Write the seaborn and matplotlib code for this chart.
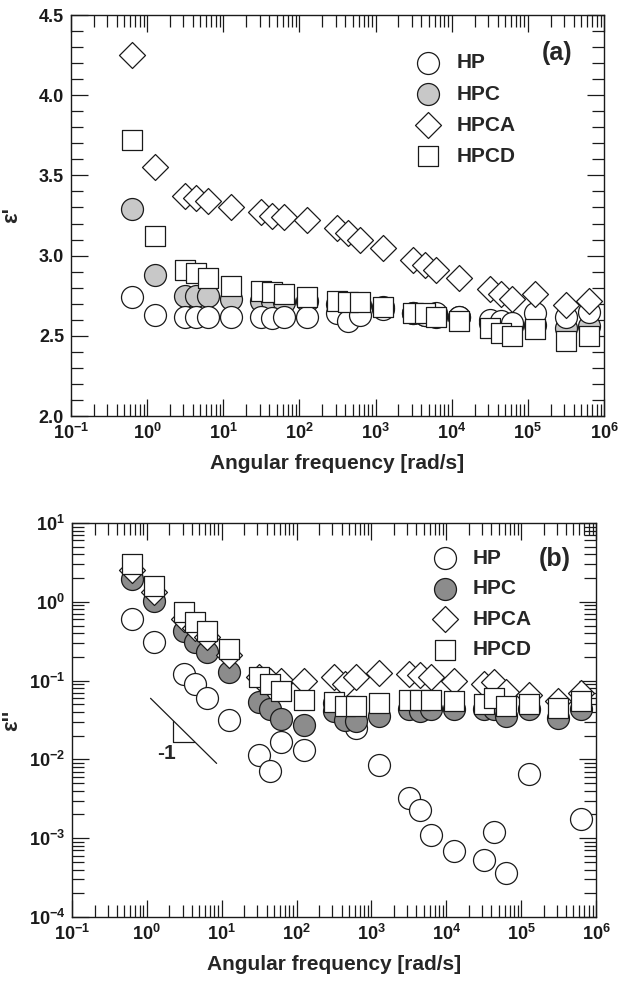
import numpy as np
import matplotlib
matplotlib.use("Agg")
import matplotlib.pyplot as plt
import seaborn as sns
from matplotlib.ticker import (LogLocator, MultipleLocator, FuncFormatter, NullFormatter,
                               FormatStrFormatter, FixedLocator)

# angular frequency [rad/s]
omega = [0.628, 1.257, 3.142, 4.398, 6.283, 12.57, 31.42, 43.98, 62.83, 125.7,
         314.2, 439.8, 628.3, 1257, 3142, 4398, 6283, 12566, 31416, 43982,
         62832, 125664, 314159, 628319]

# (a) real part of permittivity
eps1_hp = [2.74, 2.63, 2.62, 2.62, 2.62, 2.62, 2.62, 2.61, 2.62, 2.62, 2.64, 2.59,
           2.63, 2.67, 2.64, 2.63, 2.64, 2.62, 2.60, 2.59, 2.58, 2.64, 2.62, 2.65]
eps1_hpc = [3.29, 2.88, 2.75, 2.75, 2.75, 2.73, 2.72, 2.72, 2.71, 2.72, 2.70, 2.70,
            2.69, 2.68, 2.64, 2.63, 2.62, 2.62, 2.58, 2.57, 2.56, 2.57, 2.55, 2.56]
eps1_hpca = [4.25, 3.55, 3.37, 3.36, 3.34, 3.30, 3.27, 3.25, 3.24, 3.22, 3.17, 3.14,
             3.10, 3.05, 2.97, 2.94, 2.91, 2.86, 2.79, 2.76, 2.73, 2.76, 2.69, 2.72]
eps1_hpcd = [3.72, 3.12, 2.91, 2.89, 2.86, 2.81, 2.78, 2.77, 2.76, 2.74, 2.72, 2.71,
             2.71, 2.68, 2.64, 2.64, 2.62, 2.59, 2.55, 2.52, 2.50, 2.54, 2.47, 2.50]

# (b) imaginary part of permittivity
eps2_hp = [0.60, 0.31, 0.123, 0.091, 0.061, 0.032, 0.0114, 0.0072, 0.0166, 0.0132,
           0.052, 0.040, 0.025, 0.0085, 0.0032, 0.0023, 0.0011, 0.00068, 0.00053,
           0.0012, 0.00036, 0.0065, np.nan, 0.00174]
eps2_hpc = [1.93, 1.03, 0.42, 0.31, 0.23, 0.13, 0.054, 0.044, 0.033, 0.027, 0.041,
            0.032, 0.031, 0.036, 0.043, 0.041, 0.043, 0.043, 0.043, 0.043, 0.036,
            0.043, 0.034, 0.043]
eps2_hpca = [2.5, 1.35, 0.60, 0.46, 0.36, 0.21, 0.11, 0.10, 0.10, 0.10, 0.11, 0.09,
             0.11, 0.126, 0.12, 0.117, 0.112, 0.10, 0.091, 0.095, 0.072, 0.066,
             0.055, 0.07]
eps2_hpcd = [3.0, 1.6, 0.74, 0.56, 0.43, 0.25, 0.112, 0.091, 0.074, 0.056, 0.054,
             0.048, 0.048, 0.052, 0.056, 0.056, 0.056, 0.055, 0.050, 0.060, 0.047,
             0.050, 0.045, 0.055]

names = ["HP", "HPC", "HPCA", "HPCD"]
markers = ["o", "o", "D", "s"]
sizes = [250, 250, 175, 205]
x_decades = [1e-1, 1e0, 1e1, 1e2, 1e3, 1e4, 1e5, 1e6]
y_decades = [1e-4, 1e-3, 1e-2, 1e-1, 1e0, 1e1]

sns.set_style("ticks")
plt.rcParams['font.family'] = ['Liberation Sans', 'DejaVu Sans']
plt.rcParams['font.weight'] = 'bold'
plt.rcParams['mathtext.fontset'] = 'custom'
plt.rcParams['mathtext.rm'] = 'Liberation Sans:bold'
plt.rcParams['mathtext.bf'] = 'Liberation Sans:bold'
plt.rcParams['mathtext.it'] = 'Liberation Sans:bold'
plt.rcParams['axes.linewidth'] = 1.0
ink = '#1a1a1a'

fig = plt.figure(figsize=(6.19, 9.82), dpi=100)
ax1 = fig.add_axes([71 / 619, 1 - 416 / 982, 533 / 619, 401 / 982])
ax2 = fig.add_axes([72 / 619, 1 - 917 / 982, 524 / 619, 394 / 982])

# top panel: HP drawn over HPC
top_data = [eps1_hp, eps1_hpc, eps1_hpca, eps1_hpcd]
top_fill = ['white', '#c8c8c8', 'white', 'white']
top_z = [3, 2, 4, 5]
for name, m, s, vals, fc, z in zip(names, markers, sizes, top_data, top_fill, top_z):
    sns.scatterplot(x=omega, y=vals, ax=ax1, marker=m, s=s, color=fc,
                    edgecolor=ink, linewidth=0.9, label=name, zorder=z)

bot_data = [eps2_hp, eps2_hpc, eps2_hpca, eps2_hpcd]
bot_fill = ['white', '#8c8c8c', 'white', 'white']
for i, (name, m, s, vals, fc) in enumerate(zip(names, markers, sizes, bot_data, bot_fill)):
    sns.scatterplot(x=omega, y=vals, ax=ax2, marker=m, s=s, color=fc,
                    edgecolor=ink, linewidth=0.9, label=name, zorder=2 + i)

# slope -1 guide
ax2.plot([1.12, 8.55], [0.0596, 0.0089], color=ink, lw=0.9)
ax2.plot([2.25, 2.25, 4.3], [0.031, 0.0165, 0.0165], color=ink, lw=0.9)
ax2.text(1.84, 0.012, "-1", ha='center', va='center', fontsize=15, fontweight='bold')

def pow10(v, p):
    return r'$\mathbf{10^{%d}}$' % int(round(np.log10(v)))

for ax in (ax1, ax2):
    ax.set_xscale('log')
    ax.set_xlim(0.1, 1e6)
    ax.xaxis.set_major_locator(FixedLocator(x_decades))
    ax.xaxis.set_minor_locator(LogLocator(base=10, subs=np.arange(2, 10), numticks=20))
    ax.xaxis.set_major_formatter(FuncFormatter(pow10))
    ax.xaxis.set_minor_formatter(NullFormatter())
    ax.tick_params(which='both', direction='in', top=True, right=True,
                   width=0.9, color=ink, labelcolor=ink)
    ax.tick_params(which='major', length=12.5, labelsize=13, pad=5)
    ax.tick_params(which='minor', length=8.5)
    ax.set_xlabel("Angular frequency [rad/s]", fontsize=15, fontweight='bold', labelpad=8)
    for sp in ax.spines.values():
        sp.set_color(ink)

ax1.set_ylim(2.0, 4.5)
ax1.yaxis.set_major_locator(MultipleLocator(0.5))
ax1.yaxis.set_minor_locator(MultipleLocator(0.1))
ax1.yaxis.set_major_formatter(FormatStrFormatter('%.1f'))
ax1.set_ylabel("ε'", fontsize=16, fontweight='bold')
ax1.yaxis.set_label_coords(-0.092, 0.5)

ax2.set_yscale('log')
ax2.set_ylim(1e-4, 10)
ax2.yaxis.set_major_locator(FixedLocator(y_decades))
ax2.yaxis.set_minor_locator(LogLocator(base=10, subs=np.arange(2, 10), numticks=20))
ax2.yaxis.set_major_formatter(FuncFormatter(pow10))
ax2.yaxis.set_minor_formatter(NullFormatter())
ax2.set_ylabel("ε''", fontsize=16, fontweight='bold')
ax2.yaxis.set_label_coords(-0.095, 0.5)

leg_kw = dict(frameon=False, loc='upper left', prop={'weight': 'bold', 'size': 15},
              handletextpad=0.35, borderpad=0, borderaxespad=0)
ax1.legend(bbox_to_anchor=(0.631, 0.904), labelspacing=0.58, **leg_kw)
ax2.legend(bbox_to_anchor=(0.672, 0.935), labelspacing=0.55, **leg_kw)

ax1.text(0.912, 0.905, "(a)", transform=ax1.transAxes, ha='center', va='center',
         fontsize=18, fontweight='bold')
ax2.text(0.922, 0.909, "(b)", transform=ax2.transAxes, ha='center', va='center',
         fontsize=18, fontweight='bold')

fig.savefig("out.png", dpi=100)
